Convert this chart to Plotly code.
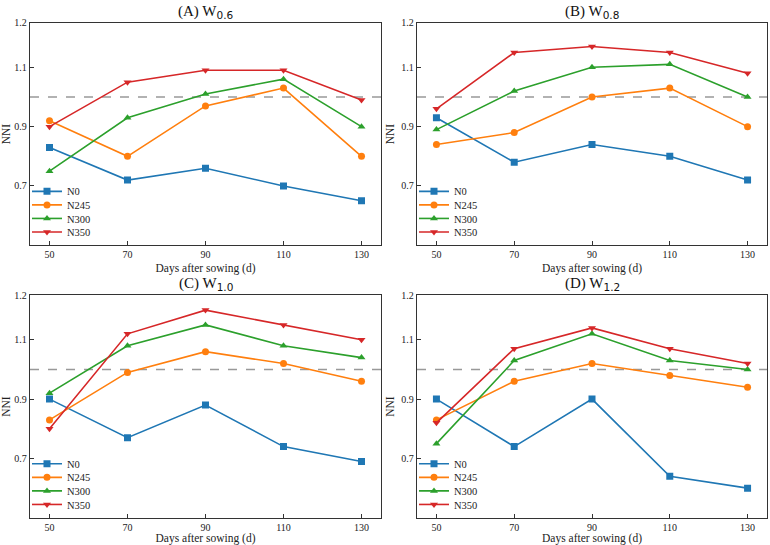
import plotly.graph_objects as go

days = [50, 70, 90, 110, 130]
series_names = ["N0", "N245", "N300", "N350"]
panel_titles = ["(A) W", "(B) W", "(C) W", "(D) W"]
panel_subs = ["0.6", "0.8", "1.0", "1.2"]

# NNI values per panel (rows: N0, N245, N300, N350)
nni_A = [
    [0.83, 0.72, 0.76, 0.70, 0.65],
    [0.92, 0.80, 0.97, 1.03, 0.80],
    [0.75, 0.93, 1.01, 1.06, 0.90],
    [0.90, 1.05, 1.09, 1.09, 0.99],
]
nni_B = [
    [0.93, 0.78, 0.84, 0.80, 0.72],
    [0.84, 0.88, 1.00, 1.03, 0.90],
    [0.89, 1.02, 1.10, 1.11, 1.00],
    [0.96, 1.15, 1.17, 1.15, 1.08],
]
nni_C = [
    [0.90, 0.77, 0.88, 0.74, 0.69],
    [0.83, 0.99, 1.06, 1.02, 0.96],
    [0.92, 1.08, 1.15, 1.08, 1.04],
    [0.80, 1.12, 1.20, 1.15, 1.10],
]
nni_D = [
    [0.90, 0.74, 0.90, 0.64, 0.60],
    [0.83, 0.96, 1.02, 0.98, 0.94],
    [0.75, 1.03, 1.12, 1.03, 1.00],
    [0.82, 1.07, 1.14, 1.07, 1.02],
]
panels = [nni_A, nni_B, nni_C, nni_D]

y_tickvals = [0.7, 0.9, 1.1, 1.25]
y_ticktext = ["0.7", "0.9", "1.1", "1.2"]
ref_line = 1.0

colors = ["#1f77b4", "#ff7f0e", "#2ca02c", "#d62728"]
symbols = ["square", "circle", "triangle-up", "triangle-down"]

W, H = 770, 545
xdoms = [[30 / W, 381 / W], [417 / W, 767 / W]]
ydoms = [[1 - 242 / H, 1 - 17 / H], [1 - 517.5 / H, 1 - 292.5 / H]]

FONT = "Liberation Serif"

fig = go.Figure()
layout = {}
annotations = []
shapes = []
leg_count = 0
for p, data in enumerate(panels):
    r, c = divmod(p, 2)
    idx = p + 1
    xa = "x" if idx == 1 else f"x{idx}"
    ya = "y" if idx == 1 else f"y{idx}"
    for s, name in enumerate(series_names):
        leg_count += 1
        lg = "legend" if leg_count == 1 else f"legend{leg_count}"
        fig.add_trace(go.Scatter(
            x=days, y=data[s], name=name, mode="lines+markers",
            line=dict(color=colors[s], width=1.6),
            marker=dict(symbol=symbols[s], size=7, color=colors[s]),
            xaxis=xa, yaxis=ya, legend=lg, showlegend=True,
        ))
        # one legend entry per box, stacked with tight spacing
        offset_px = 13.5 + (3 - s) * 13.7
        layout[lg] = dict(
            x=xdoms[c][0] - 3 / W, y=ydoms[r][0] + offset_px / H, xanchor="left", yanchor="middle",
            bgcolor="rgba(0,0,0,0)", font=dict(family=FONT, size=10.5, color="#222"),
            itemwidth=30, tracegroupgap=0, borderwidth=0,
        )
    axis_common = dict(showline=True, linecolor="#333333", linewidth=1.3, mirror=True,
                       ticks="inside", ticklen=4, tickcolor="#333333", showgrid=False,
                       zeroline=False, tickfont=dict(family=FONT, size=10, color="#222"))
    layout["xaxis" if idx == 1 else f"xaxis{idx}"] = dict(
        axis_common, domain=xdoms[c], range=[45, 135], tickvals=days,
        anchor=ya,
        title=dict(text="Days after sowing (d)", font=dict(family=FONT, size=11.5, color="#222"), standoff=4),
    )
    layout["yaxis" if idx == 1 else f"yaxis{idx}"] = dict(
        axis_common, domain=ydoms[r], range=[0.5, 1.25], tickvals=y_tickvals, ticktext=y_ticktext,
        anchor=xa,
        title=dict(text="NNI", font=dict(family=FONT, size=11.5, color="#222"), standoff=4),
    )
    annotations.append(dict(
        text=f"{panel_titles[p]}<sub><span style='font-family:DejaVu Sans'>{panel_subs[p]}</span></sub>",
        x=(xdoms[c][0] + xdoms[c][1]) / 2, y=ydoms[r][1], xref="paper", yref="paper",
        xanchor="center", yanchor="bottom", showarrow=False, yshift=0,
        font=dict(family=FONT, size=15, color="#111"),
    ))
    shapes.append(dict(type="line", xref=f"{xa} domain", yref=ya, x0=0, x1=1, y0=ref_line, y1=ref_line,
                       line=dict(color="#999999", width=1.4, dash="dash"), layer="below"))

fig.update_layout(
    width=W, height=H, margin=dict(l=0, r=0, t=0, b=0),
    paper_bgcolor="white", plot_bgcolor="white",
    annotations=annotations, shapes=shapes,
    font=dict(family=FONT),
    **layout,
)
fig.write_html("out.html")
